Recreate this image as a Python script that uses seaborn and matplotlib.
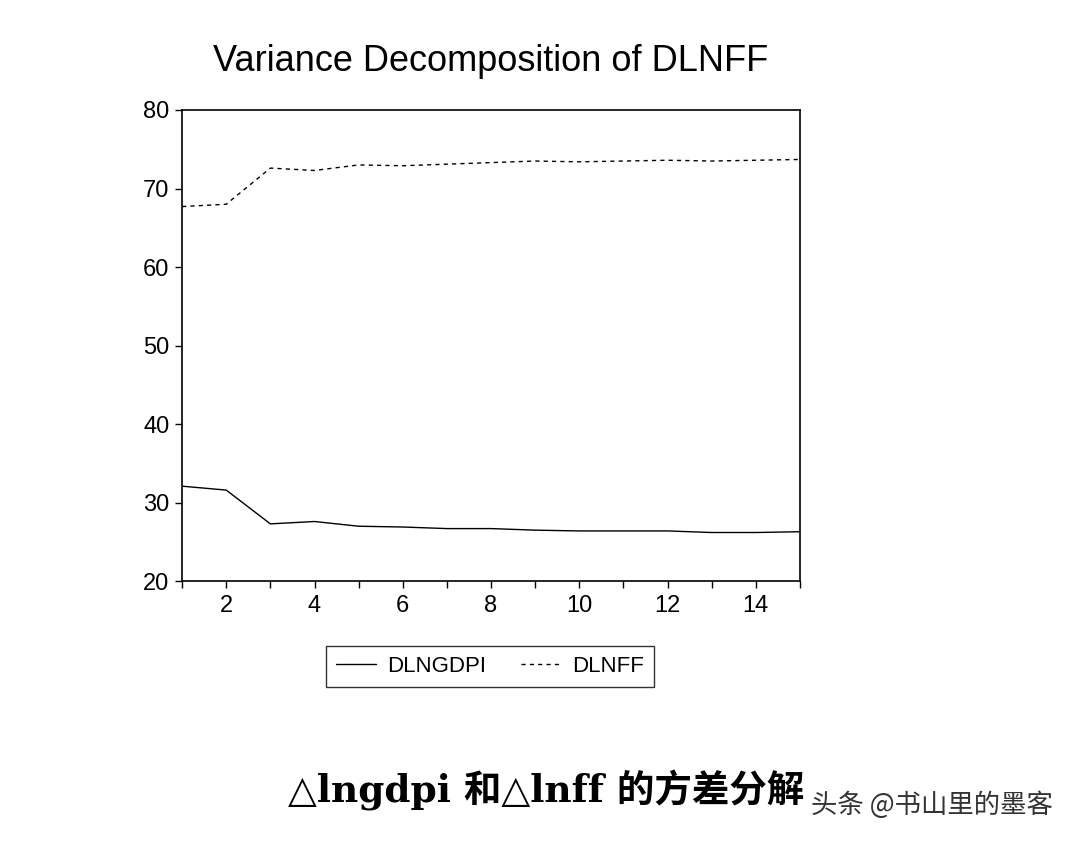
import numpy as np
import pandas as pd
import matplotlib
matplotlib.use("Agg")
import matplotlib.pyplot as plt
import seaborn as sns
from matplotlib.lines import Line2D

# --- DATA ---
periods = list(range(1, 16))
dlngdpi = [32.1, 31.6, 27.3, 27.6, 27.0, 26.9, 26.7, 26.7, 26.5, 26.4, 26.4, 26.4, 26.2, 26.2, 26.3]
dlnff = [67.7, 68.0, 72.6, 72.3, 73.0, 72.9, 73.1, 73.3, 73.5, 73.4, 73.5, 73.6, 73.5, 73.6, 73.7]
series_names = ["DLNGDPI", "DLNFF"]
y_ticks = [20, 30, 40, 50, 60, 70, 80]
x_ticks = [2, 4, 6, 8, 10, 12, 14]

df = pd.DataFrame({
    "period": periods * 2,
    "value": dlngdpi + dlnff,
    "series": [series_names[0]] * len(periods) + [series_names[1]] * len(periods),
})

# --- STYLE ---
sns.set_style("white")
plt.rcParams["font.family"] = ["Liberation Sans", "DejaVu Sans"]

fig = plt.figure(figsize=(10.84, 8.46), dpi=100)
ax = fig.add_axes([0.168, 0.313, 0.570, 0.557])

sns.lineplot(data=df, x="period", y="value", style="series",
             dashes={"DLNGDPI": "", "DLNFF": (3, 3)},
             color="black", linewidth=1.0, ax=ax, legend=False)

ax.set_xlim(1, 15)
ax.set_ylim(20, 80)
ax.set_yticks(y_ticks)
ax.set_xticks(x_ticks)
ax.set_xticks(periods, minor=True)
ax.tick_params(axis="both", which="both", direction="out", length=5,
               width=1, colors="black", labelsize=17, bottom=True, left=True)
ax.tick_params(axis="x", which="major", pad=5)
ax.tick_params(axis="y", which="major", pad=4)
ax.set_xlabel("")
ax.set_ylabel("")
for sp in ax.spines.values():
    sp.set_color("black")
    sp.set_linewidth(1.2)

ax.set_title("Variance Decomposition of DLNFF", fontsize=26, pad=28, color="black")

# legend box below the axes
handles = [Line2D([], [], color="black", lw=1.0),
           Line2D([], [], color="black", lw=1.0, ls=(0, (3, 3)))]
leg = fig.legend(handles, series_names, loc="center", bbox_to_anchor=(0.452, 0.212),
                 ncol=2, frameon=True, handlelength=1.8, handletextpad=0.5,
                 columnspacing=1.6, fancybox=False, borderpad=0.45,
                 prop={"family": ["Liberation Sans Narrow", "Liberation Sans"], "size": 16})
leg.get_frame().set_edgecolor("black")
leg.get_frame().set_linewidth(1.0)
for t in leg.get_texts():
    t.set_color("black")

# caption and watermark
fig.text(0.504, 0.066, "△lngdpi 和△lnff 的方差分解", ha="center", va="center",
         fontsize=27, fontweight="bold", color="black",
         family=["DejaVu Serif", "Noto Sans CJK SC"])
fig.text(0.86, 0.048, "头条 @书山里的墨客", ha="center", va="center",
         fontsize=19, color="#333333", family=["Noto Sans CJK SC", "DejaVu Sans"])

fig.savefig("out.png", dpi=100)
